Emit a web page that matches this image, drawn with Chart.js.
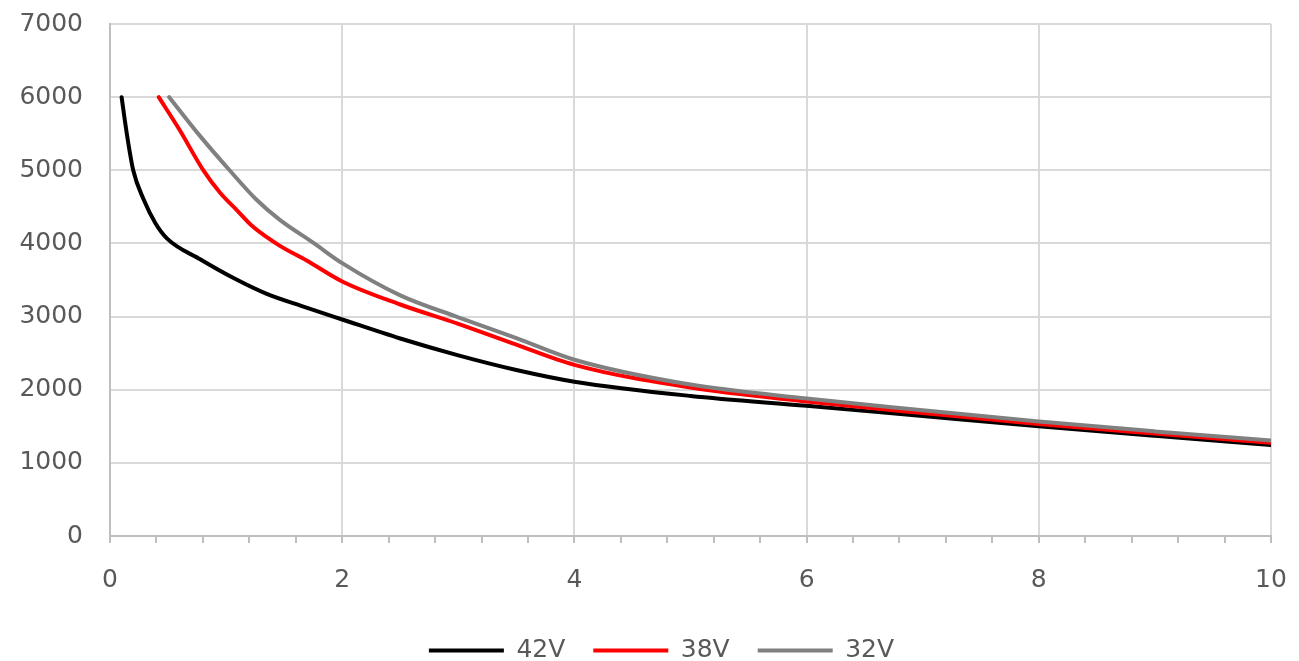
<!DOCTYPE html>
<html>
<head>
<meta charset="utf-8">
<script src="https://cdn.jsdelivr.net/npm/chart.js@4.4.0/dist/chart.umd.min.js"></script>
<style>
  html, body { margin: 0; padding: 0; background: #fff; }
  #wrap { width: 1299px; height: 661px; }
</style>
</head>
<body>
<div id="wrap"><canvas id="chart"></canvas></div>
<script>
// series names and colours
const seriesNames = ["42V", "38V", "32V"];
const seriesColors = ["#000000", "#ff0000", "#808080"];

// x values and y values per series
const x42 = [0.1, 0.14, 0.2, 0.29, 0.39, 0.49, 0.78, 1.06, 1.35, 1.64, 2, 2.5, 3, 3.5, 4, 5, 6, 7, 8, 9, 10];
const y42 = [6000, 5550, 5000, 4600, 4280, 4070, 3780, 3530, 3310, 3150, 2960, 2700, 2470, 2270, 2110, 1915, 1780, 1640, 1500, 1370, 1245];

const x38 = [0.42, 0.6, 0.8, 0.95, 1.09, 1.23, 1.46, 1.69, 2, 2.5, 3, 3.5, 4, 5, 6, 7, 8, 9, 10];
const y38 = [6000, 5550, 5010, 4690, 4460, 4230, 3970, 3770, 3480, 3165, 2900, 2615, 2340, 2030, 1840, 1680, 1530, 1400, 1275];

const x32 = [0.51, 0.78, 1.03, 1.26, 1.46, 1.75, 2, 2.5, 3, 3.5, 4, 5, 6, 7, 8, 9, 10];
const y32 = [6000, 5460, 5000, 4600, 4325, 4010, 3730, 3290, 2990, 2705, 2410, 2070, 1880, 1720, 1565, 1430, 1305];

// axis ranges
const xMin = 0, xMax = 10, xMinorStep = 0.4, xMajorStep = 2;
const yMin = 0, yMax = 7000, yStep = 1000;

const textColor = "#595959";
const fontFamily = "'DejaVu Sans', Verdana, sans-serif";
const fontSize = 25;

function toPoints(xs, ys) {
  return xs.map((x, i) => ({ x: x, y: ys[i] }));
}

function isMajor(v) {
  const r = v / xMajorStep;
  return Math.abs(r - Math.round(r)) < 1e-6;
}

const allX = [x42, x38, x32];
const allY = [y42, y38, y32];

const datasets = seriesNames.map((name, i) => ({
  label: name,
  data: toPoints(allX[i], allY[i]),
  borderColor: seriesColors[i],
  backgroundColor: seriesColors[i],
  borderWidth: 4,
  borderCapStyle: "round",
  borderJoinStyle: "round",
  pointRadius: 0,
  cubicInterpolationMode: "monotone",
  fill: false,
  // later series sit on top, like the original
  order: seriesNames.length - i,
}));

// the legend in the original sits a bit right of centre
const legendShift = {
  id: "legendShift",
  afterLayout(chart) {
    if (chart.legend) {
      chart.legend.left += 21;
      chart.legend.right += 21;
    }
  },
};

const ctx = document.getElementById("chart").getContext("2d");
new Chart(ctx, {
  type: "line",
  data: { datasets: datasets },
  plugins: [legendShift],
  options: {
    responsive: true,
    maintainAspectRatio: false,
    animation: false,
    layout: { padding: { left: 10, right: 28, top: 24, bottom: -12 } },
    plugins: {
      tooltip: { enabled: false },
      legend: {
        position: "bottom",
        labels: {
          usePointStyle: true,
          pointStyle: "line",
          pointStyleWidth: 75,
          color: textColor,
          font: { family: fontFamily, size: fontSize },
          padding: 28,
          sort: (a, b) => a.datasetIndex - b.datasetIndex,
        },
      },
    },
    scales: {
      x: {
        type: "linear",
        min: xMin,
        max: xMax,
        afterFit: (s) => { s.height = 74; s.paddingLeft = 0; s.paddingRight = 0; },
        border: { color: "#bfbfbf", width: 2 },
        grid: {
          color: (c) => (c.tick && isMajor(c.tick.value) ? "#d9d9d9" : "rgba(0,0,0,0)"),
          tickColor: "#bfbfbf",
          tickLength: 7,
          lineWidth: 2,
        },
        ticks: {
          stepSize: xMinorStep,
          autoSkip: false,
          maxRotation: 0,
          color: textColor,
          font: { family: fontFamily, size: fontSize },
          padding: 22,
          callback: (v) => (isMajor(v) ? String(Math.round(v)) : ""),
        },
      },
      y: {
        type: "linear",
        min: yMin,
        max: yMax,
        afterFit: (s) => { s.width = 100; s.paddingTop = 0; },
        border: { color: "#bfbfbf", width: 2 },
        grid: { color: "#d9d9d9", lineWidth: 2, drawTicks: false },
        ticks: {
          stepSize: yStep,
          color: textColor,
          font: { family: fontFamily, size: fontSize },
          padding: 27,
          callback: (v) => String(v),
        },
      },
    },
  },
});
</script>
</body>
</html>
